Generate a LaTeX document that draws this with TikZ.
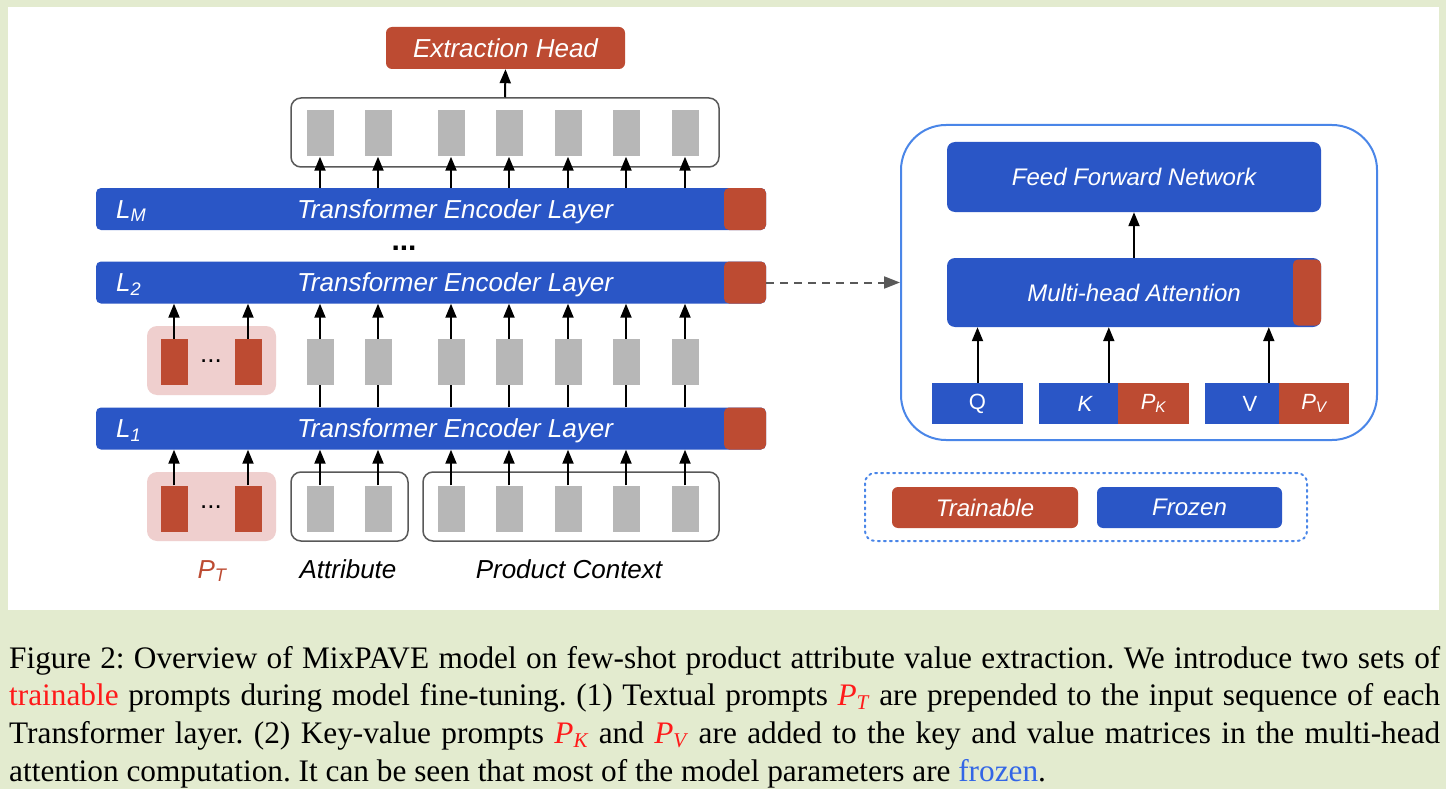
\documentclass[tikz,border=0pt]{standalone}
\usepackage{fontspec}
\setmainfont{Liberation Serif}
\setsansfont{Liberation Sans}
\usetikzlibrary{arrows.meta}

\definecolor{frozenblue}{HTML}{2A56C6}
\definecolor{trainred}{HTML}{BD4B32}
\definecolor{promptpink}{HTML}{EFCFCE}
\definecolor{tokengray}{HTML}{B7B7B7}
\definecolor{linegray}{HTML}{595959}
\definecolor{panelblue}{HTML}{4A86E8}
\definecolor{bgcol}{HTML}{E3EBCF}
\definecolor{capred}{HTML}{FF1A1A}
\definecolor{capblue}{HTML}{3366E6}

\newcommand{\redp}[1]{\textcolor{capred}{\textit{P}\raisebox{-4pt}{\fontsize{21}{21}\selectfont\textit{#1}}}}

\tikzset{
  layer/.style={fill=frozenblue, rounded corners=5pt, minimum width=670pt, minimum height=42pt, inner sep=0pt},
  endsq/.style={fill=trainred, rounded corners=5pt, minimum size=42pt, inner sep=0pt},
  tok/.style={fill=tokengray, minimum width=27pt, minimum height=46pt, inner sep=0pt},
  ptok/.style={tok, fill=trainred},
  pbox/.style={fill=promptpink, rounded corners=10pt, minimum width=129pt, minimum height=69pt, inner sep=0pt},
  grp/.style={draw=linegray, line width=1.5pt, rounded corners=10pt, minimum height=69pt, inner sep=0pt},
  lbl/.style={font=\sffamily\itshape\fontsize{26}{30}\selectfont, text=white, inner sep=0pt},
  txt/.style={font=\sffamily\itshape\fontsize{26}{30}\selectfont, inner sep=0pt},
  blk/.style={fill=frozenblue, rounded corners=8pt, text=white, inner sep=0pt, font=\sffamily\itshape\fontsize{24}{28}\selectfont},
  kv/.style={fill=frozenblue, minimum height=41pt, text=white, inner sep=0pt, font=\sffamily\fontsize{22}{26}\selectfont},
  dotsnode/.style={font=\sffamily\fontsize{26}{30}\selectfont, inner sep=0pt},
  up/.style={-{Triangle[width=11pt,length=14pt]}, line width=2pt},
}

\begin{document}
\begin{tikzpicture}[x=1pt,y=-1pt]

% Latar belakang dan panel putih
\fill[bgcol] (0,0) rectangle (1446,789);
\fill[white] (8,7) rectangle (1439,610);
\useasboundingbox (0,0) rectangle (1446,789);

% Tiga lapisan encoder
\node[layer] (lm) at (431,209) {};
\node[layer] (l2) at (431,282.5) {};
\node[layer] (l1) at (431,428.5) {};
\node[endsq] (lmsq) at (745,209) {};
\node[endsq] (l2sq) at (745,282.5) {};
\node[endsq] (l1sq) at (745,428.5) {};
\node[lbl, anchor=base west] (lmname) at (116,218) {L\textsubscript{M}};
\node[lbl, anchor=base west] (l2name) at (116,291.5) {L\textsubscript{2}};
\node[lbl, anchor=base west] (l1name) at (116,437.5) {L\textsubscript{1}};
\node[lbl, anchor=base] (lmtxt) at (455,218) {Transformer Encoder Layer};
\node[lbl, anchor=base] (l2txt) at (455,291.5) {Transformer Encoder Layer};
\node[lbl, anchor=base] (l1txt) at (455,437.5) {Transformer Encoder Layer};
\node[dotsnode, font=\sffamily\bfseries\fontsize{30}{30}\selectfont, anchor=base] (vdots) at (404,250) {...};

% Keluaran dan kepala ekstraksi
\node[grp, minimum width=428pt] (out) at (505,132.5) {};
\node[blk, fill=trainred, rounded corners=6pt, minimum width=239pt, minimum height=42pt, font=\sffamily\itshape\fontsize{26}{30}\selectfont] (eh) at (505.5,48) {Extraction Head};
\draw[up] (out.north) -- (eh.south);
\foreach \x [count=\i] in {320,378,451,509,568,626,685} {
  \node[tok] (o\i) at (\x,133.5) {};
  \draw[up] (lm.north -| o\i) -- (o\i.south);
}

% Baris tengah: prompt dan token
\node[pbox] (pm) at (211.5,360.5) {};
\node[ptok] (pm1) at (174,362) {};
\node[ptok] (pm2) at (248,362) {};
\node[dotsnode, anchor=base] (pmd) at (211,362) {...};
\draw[up] (pm1.north) -- (l2.south -| pm1);
\draw[up] (pm2.north) -- (l2.south -| pm2);
\foreach \x [count=\i] in {320,378,451,509,568,626,685} {
  \node[tok] (m\i) at (\x,362) {};
  \draw[line width=2pt] (l1.north -| m\i) -- (m\i.south);
  \draw[up] (m\i.north) -- (l2.south -| m\i);
}

% Baris bawah: masukan
\node[pbox] (pb) at (211.5,506.5) {};
\node[ptok] (pb1) at (174,508.5) {};
\node[ptok] (pb2) at (248,508.5) {};
\node[dotsnode, anchor=base] (pbd) at (211,508.5) {...};
\node[grp, minimum width=117pt] (attr) at (349.5,506.5) {};
\node[grp, minimum width=296pt] (ctx) at (571,506.5) {};
\draw[up] (pb1.north) -- (l1.south -| pb1);
\draw[up] (pb2.north) -- (l1.south -| pb2);
\foreach \x [count=\i] in {320,378,451,509,568,626,685} {
  \node[tok] (b\i) at (\x,508.5) {};
  \draw[up] (b\i.north) -- (l1.south -| b\i);
}
\node[txt, text=trainred, anchor=base] (ptlabel) at (212,578) {P\textsubscript{T}};
\node[txt, anchor=base] (attrlabel) at (348,578) {Attribute};
\node[txt, anchor=base] (ctxlabel) at (569,578) {Product Context};

% Panel kanan: isi lapisan
\node[draw=panelblue, line width=2pt, rounded corners=45pt, minimum width=476pt, minimum height=315pt, inner sep=0pt] (panel) at (1139,282.5) {};
\node[blk, minimum width=374pt, minimum height=70pt] (ffn) at (1134,177) {Feed Forward Network};
\node[blk, minimum width=374pt, minimum height=69pt] (mha) at (1134,292.5) {Multi-head Attention};
\node[endsq, minimum size=0pt, minimum width=28pt, minimum height=66pt] (mhasq) at (1307,292.5) {};
\draw[up] (mha.north) -- (ffn.south);
\node[kv, minimum width=91pt] (q) at (977.5,403.5) {Q};
\node[kv, minimum width=92pt, font=\sffamily\itshape\fontsize{22}{26}\selectfont] (k) at (1085,403.5) {K};
\node[kv, fill=trainred, minimum width=71pt, font=\sffamily\itshape\fontsize{22}{26}\selectfont] (pk) at (1153.5,403.5) {P\textsubscript{K}};
\node[kv, minimum width=90pt] (v) at (1250,403.5) {V};
\node[kv, fill=trainred, minimum width=70pt, font=\sffamily\itshape\fontsize{22}{26}\selectfont] (pv) at (1314,403.5) {P\textsubscript{V}};
\coordinate (ka) at ([xshift=-9pt]pk.north west);
\coordinate (va) at ([xshift=-10pt]pv.north west);
\draw[up] (q.north) -- (mha.south -| q.north);
\draw[up] (ka) -- (mha.south -| ka);
\draw[up] (va) -- (mha.south -| va);

% Panah putus-putus ke panel
\draw[linegray, line width=2pt, dash pattern=on 8pt off 6pt, -{Triangle[width=12pt,length=16pt]}] (l2.east) -- (panel.west);

% Keterangan warna
\node[draw=panelblue, line width=2pt, dash pattern=on 2pt off 4pt, line cap=round, rounded corners=10pt, minimum width=442pt, minimum height=68pt, inner sep=0pt] (legend) at (1086,507) {};
\node[blk, fill=trainred, rounded corners=6pt, minimum width=186pt, minimum height=41pt] (trainable) at (985,507.5) {Trainable};
\node[blk, rounded corners=6pt, minimum width=185pt, minimum height=41pt] (frozen) at (1189.5,507.5) {Frozen};

% Keterangan gambar
\node[anchor=north west, text width=1431pt, align=justify, inner sep=0pt, font=\fontsize{31.3}{37.7}\selectfont\frenchspacing] (caption) at (9,646) {Figure 2: Overview of MixPAVE model on few-shot product attribute value extraction. We introduce two sets of\linebreak \textcolor{capred}{trainable} prompts during model fine-tuning. (1) Textual prompts \redp{T} are prepended to the input sequence of each\linebreak Transformer layer. (2) Key-value prompts \redp{K} and \redp{V} are added to the key and value matrices in the multi-head\linebreak attention computation. It can be seen that most of the model parameters are \textcolor{capblue}{frozen}.};
\end{tikzpicture}
\end{document}
